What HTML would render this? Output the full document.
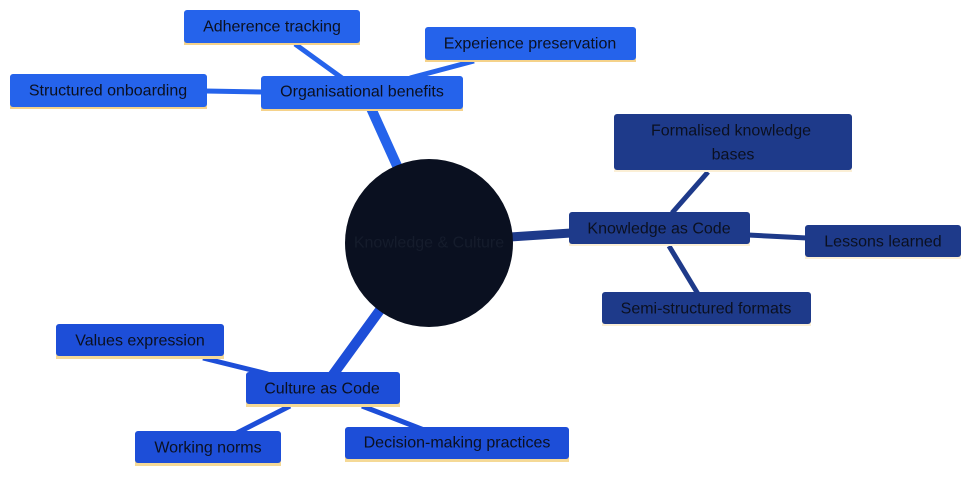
<!DOCTYPE html>
<html><head><meta charset="utf-8"><style>
html,body{margin:0;padding:0;background:#fff;}
svg{display:block;}
text{font-family:"Liberation Sans",sans-serif;font-size:16px;fill:#0b1020;text-anchor:middle;dominant-baseline:central;}
</style></head><body>
<svg width="979" height="479" viewBox="0 0 979 479" xmlns="http://www.w3.org/2000/svg">
<g stroke-linecap="butt">
<line x1="398" y1="168" x2="370" y2="106" stroke="#2563eb" stroke-width="10"/>
<line x1="510" y1="237" x2="571" y2="233" stroke="#1e3a8a" stroke-width="9"/>
<line x1="380" y1="310" x2="332" y2="376" stroke="#1d4ed8" stroke-width="10"/>
<line x1="295" y1="44" x2="342" y2="78" stroke="#2563eb" stroke-width="5"/>
<line x1="474" y1="61" x2="410" y2="78" stroke="#2563eb" stroke-width="5"/>
<line x1="205" y1="91" x2="263" y2="92" stroke="#2563eb" stroke-width="5"/>
<line x1="708" y1="172" x2="672" y2="213" stroke="#1e3a8a" stroke-width="5"/>
<line x1="748" y1="235" x2="807" y2="238" stroke="#1e3a8a" stroke-width="5"/>
<line x1="669" y1="246" x2="698" y2="294" stroke="#1e3a8a" stroke-width="5"/>
<line x1="203" y1="358" x2="268" y2="374" stroke="#1d4ed8" stroke-width="5"/>
<line x1="290" y1="406" x2="235" y2="434" stroke="#1d4ed8" stroke-width="5"/>
<line x1="362" y1="406" x2="424" y2="430" stroke="#1d4ed8" stroke-width="5"/>
</g>
<circle cx="429" cy="243" r="84" fill="#0a1020"/>
<text x="429" y="243" style="fill:#151c2c">Knowledge &amp; Culture</text>

<g>
<rect x="184" y="12" width="176" height="33" fill="#f5d28a"/>
<rect x="184" y="10" width="176" height="33" rx="3" fill="#2563eb"/>
<text x="272" y="27">Adherence tracking</text>

<rect x="425" y="29" width="211" height="33" fill="#f5d28a"/>
<rect x="425" y="27" width="211" height="33" rx="3" fill="#2563eb"/>
<text x="530" y="44">Experience preservation</text>

<rect x="10" y="76" width="197" height="33" fill="#f5d28a"/>
<rect x="10" y="74" width="197" height="33" rx="3" fill="#2563eb"/>
<text x="108" y="91">Structured onboarding</text>

<rect x="261" y="78" width="202" height="33" fill="#f5d28a"/>
<rect x="261" y="76" width="202" height="33" rx="3" fill="#2563eb"/>
<text x="362" y="92">Organisational benefits</text>

<rect x="614" y="116" width="238" height="56" fill="#fbefd6"/>
<rect x="614" y="114" width="238" height="56" rx="3" fill="#1e3a8a"/>
<text x="731" y="131">Formalised knowledge</text>
<text x="733" y="155">bases</text>

<rect x="569" y="214" width="181" height="32" fill="#fbefd6"/>
<rect x="569" y="212" width="181" height="32" rx="3" fill="#1e3a8a"/>
<text x="659" y="229">Knowledge as Code</text>

<rect x="805" y="227" width="156" height="32" fill="#fbefd6"/>
<rect x="805" y="225" width="156" height="32" rx="3" fill="#1e3a8a"/>
<text x="883" y="242">Lessons learned</text>

<rect x="602" y="294" width="209" height="32" fill="#fbefd6"/>
<rect x="602" y="292" width="209" height="32" rx="3" fill="#1e3a8a"/>
<text x="706" y="309">Semi-structured formats</text>

<rect x="56" y="326" width="168" height="33" fill="#f5d996"/>
<rect x="56" y="324" width="168" height="32" rx="3" fill="#1d4ed8"/>
<text x="140" y="341">Values expression</text>

<rect x="246" y="374" width="154" height="33" fill="#f5d996"/>
<rect x="246" y="372" width="154" height="32" rx="3" fill="#1d4ed8"/>
<text x="322" y="389">Culture as Code</text>

<rect x="135" y="433" width="146" height="33" fill="#f5d996"/>
<rect x="135" y="431" width="146" height="32" rx="3" fill="#1d4ed8"/>
<text x="208" y="448">Working norms</text>

<rect x="345" y="429" width="224" height="33" fill="#f5d996"/>
<rect x="345" y="427" width="224" height="32" rx="3" fill="#1d4ed8"/>
<text x="457" y="443">Decision-making practices</text>
</g>
</svg>
</body></html>
